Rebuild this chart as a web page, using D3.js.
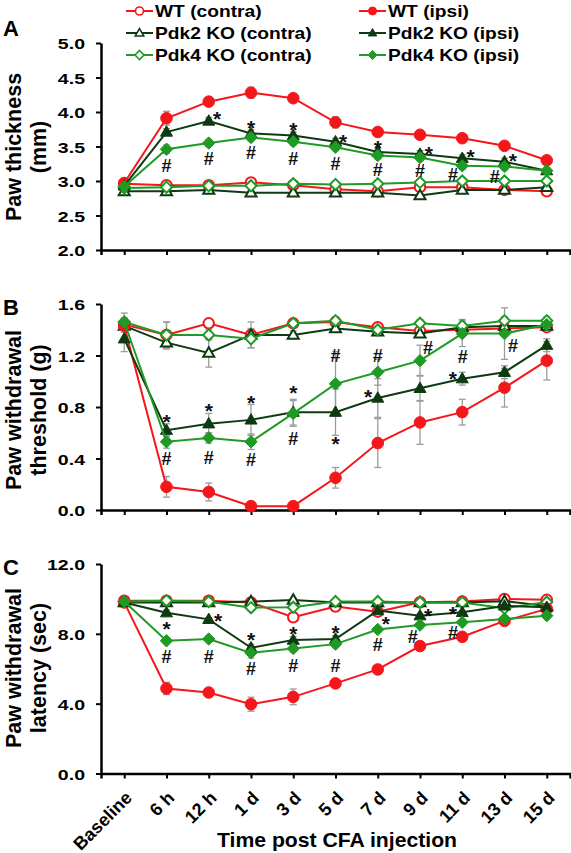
<!DOCTYPE html>
<html><head><meta charset="utf-8">
<script src="https://cdn.jsdelivr.net/npm/d3@7"></script>
<style>
body{margin:0;background:#fff;}
svg{display:block;font-family:"Liberation Sans",Arial,Helvetica,sans-serif;font-weight:bold;}
</style></head><body>
<svg id="chart" width="571" height="853"></svg>
<script>
// ---------- DATA ----------
const categories = ["Baseline","6 h","12 h","1 d","3 d","5 d","7 d","9 d","11 d","13 d","15 d"];
const seriesNames = ["WT (contra)","WT (ipsi)","Pdk2 KO (contra)","Pdk2 KO (ipsi)","Pdk4 KO (contra)","Pdk4 KO (ipsi)"];

// Panel A: Paw thickness (mm)
const thickWTc   = [2.96,2.94,2.94,2.98,2.94,2.88,2.85,2.91,2.91,2.87,2.85];
const thickWTi   = [2.97,3.91,4.15,4.28,4.20,3.85,3.71,3.67,3.62,3.51,3.30];
const thickPdk2c = [2.85,2.85,2.87,2.83,2.83,2.83,2.83,2.79,2.87,2.87,2.91];
const thickPdk2i = [2.93,3.71,3.87,3.69,3.66,3.57,3.42,3.39,3.33,3.28,3.15];
const thickPdk4c = [2.90,2.91,2.93,2.93,2.96,2.95,2.96,2.98,3.00,3.00,3.00];
const thickPdk4i = [2.92,3.46,3.55,3.63,3.57,3.49,3.37,3.34,3.22,3.21,3.15];
const thickErrWTc   = [0.03,0.03,0.03,0.03,0.03,0.03,0.03,0.03,0.03,0.03,0.03];
const thickErrWTi   = [0.03,0.10,0.05,0.08,0.04,0.08,0.05,0.05,0.06,0.04,0.04];
const thickErrPdk2c = [0.03,0.03,0.03,0.03,0.03,0.03,0.03,0.03,0.03,0.03,0.03];
const thickErrPdk2i = [0.03,0.05,0.05,0.05,0.05,0.05,0.05,0.05,0.05,0.05,0.04];
const thickErrPdk4c = [0.03,0.03,0.03,0.03,0.03,0.03,0.03,0.03,0.03,0.03,0.03];
const thickErrPdk4i = [0.03,0.06,0.05,0.05,0.05,0.05,0.05,0.05,0.05,0.05,0.04];
const thickTicks = [2.0,2.5,3.0,3.5,4.0,4.5,5.0];
// annotations: [symbol, category position (index units), value]
const thickNotes = [["*",2.2,3.97],["*",3,3.84],["*",4,3.81],["*",5.18,3.64],["*",6,3.55],["*",7.21,3.46],["*",8.2,3.42],["*",9.2,3.36],
  ["#",1,3.23],["#",2,3.33],["#",3,3.42],["#",4,3.33],["#",5,3.25],["#",6,3.17],["#",7,3.15],["#",7.78,3.09],["#",8.77,3.07]];

// Panel B: Paw withdrawal threshold (g)
const threshWTc   = [1.44,1.36,1.45,1.36,1.45,1.46,1.42,1.39,1.40,1.41,1.42];
const threshWTi   = [1.43,0.18,0.14,0.03,0.03,0.25,0.52,0.68,0.76,0.95,1.16];
const threshPdk2c = [1.43,1.30,1.22,1.36,1.36,1.41,1.385,1.37,1.42,1.43,1.43];
const threshPdk2i = [1.33,0.62,0.67,0.70,0.76,0.76,0.87,0.945,1.02,1.07,1.28];
const threshPdk4c = [1.46,1.36,1.36,1.33,1.45,1.47,1.40,1.45,1.43,1.47,1.47];
const threshPdk4i = [1.46,0.53,0.56,0.53,0.75,0.98,1.07,1.16,1.37,1.37,1.44];
const threshErrWTc   = [0.03,0.10,0.03,0.05,0.03,0.03,0.03,0.04,0.03,0.03,0.03];
const threshErrWTi   = [0.05,0.08,0.07,0.02,0.02,0.08,0.19,0.17,0.10,0.15,0.15];
const threshErrPdk2c = [0.10,0.05,0.11,0.10,0.03,0.03,0.03,0.03,0.04,0.03,0.03];
const threshErrPdk2i = [0.10,0.05,0.08,0.12,0.10,0.18,0.15,0.10,0.05,0.05,0.05];
const threshErrPdk4c = [0.03,0.10,0.04,0.07,0.03,0.03,0.03,0.03,0.05,0.03,0.03];
const threshErrPdk4i = [0.03,0.05,0.04,0.06,0.10,0.25,0.10,0.12,0.10,0.20,0.05];
const threshTicks = [0.0,0.4,0.8,1.2,1.6];
const threshNotes = [["*",1,0.725],["*",2,0.81],["*",3,0.875],["*",4,0.95],["*",5,0.55],["*",5.77,0.92],["*",7.78,1.06],
  ["#",1,0.40],["#",2,0.41],["#",3,0.39],["#",4,0.555],["#",5,1.20],["#",6,1.20],["#",7.19,1.26],["#",8.01,1.19],["#",9.2,1.28]];

// Panel C: Paw withdrawal latency (sec)
const latWTc   = [9.90,9.90,9.90,9.80,8.95,9.56,9.27,9.81,9.85,10.0,9.95];
const latWTi   = [9.80,4.87,4.64,3.97,4.39,5.16,5.96,7.30,7.83,8.74,9.43];
const latPdk2c = [9.80,9.80,9.80,9.85,9.94,9.80,9.80,9.80,9.80,9.87,9.60];
const latPdk2i = [9.80,9.21,8.83,7.20,7.64,7.70,9.33,9.04,9.23,9.60,9.52];
const latPdk4c = [9.85,9.90,9.85,9.50,9.52,9.85,9.85,9.80,9.80,9.46,9.82];
const latPdk4i = [9.85,7.60,7.70,6.91,7.16,7.41,8.25,8.50,8.66,8.85,9.04];
const latErrWTc   = [0.10,0.10,0.10,0.10,0.15,0.10,0.10,0.10,0.10,0.10,0.10];
const latErrWTi   = [0.10,0.35,0.20,0.40,0.45,0.15,0.15,0.15,0.15,0.10,0.10];
const latErrPdk2c = [0.10,0.10,0.10,0.10,0.10,0.10,0.10,0.10,0.10,0.10,0.10];
const latErrPdk2i = [0.10,0.15,0.10,0.20,0.20,0.20,0.10,0.10,0.10,0.10,0.10];
const latErrPdk4c = [0.10,0.10,0.10,0.10,0.10,0.10,0.10,0.10,0.10,0.10,0.10];
const latErrPdk4i = [0.10,0.15,0.15,0.30,0.20,0.20,0.10,0.10,0.10,0.10,0.10];
const latTicks = [0,4,8,12];
const latNotes = [["*",1,8.56],["*",2.22,9.02],["*",3,7.93],["*",4,8.26],["*",5,8.37],["*",6.19,8.85],["*",7.19,9.33],["*",7.78,9.46],
  ["#",1,6.69],["#",2,6.72],["#",3,6.01],["#",4,6.21],["#",5,6.21],["#",6,7.36],["#",6.83,7.87],["#",7.78,8.06]];

// ---------- STYLES ----------
const RED = "#f5161b", DARK = "#0e3a12", GREEN = "#1f9a25", ERR = "#9c9c9c";
const seriesStyle = [
  {color:RED,   shape:"circle",   filled:false},
  {color:RED,   shape:"circle",   filled:true},
  {color:DARK,  shape:"triangle", filled:false},
  {color:DARK,  shape:"triangle", filled:true},
  {color:GREEN, shape:"diamond",  filled:false},
  {color:GREEN, shape:"diamond",  filled:true}
];
const drawOrder = [0,2,4,1,3,5];

const panels = [
  {letter:"A", letterY:36, values:[thickWTc,thickWTi,thickPdk2c,thickPdk2i,thickPdk4c,thickPdk4i],
   errs:[thickErrWTc,thickErrWTi,thickErrPdk2c,thickErrPdk2i,thickErrPdk4c,thickErrPdk4i],
   domain:[2,5], range:[250,43], ticks:thickTicks, notes:thickNotes,
   title:["Paw thickness","(mm)"], titleY:147, showX:false},
  {letter:"B", letterY:315, values:[threshWTc,threshWTi,threshPdk2c,threshPdk2i,threshPdk4c,threshPdk4i],
   errs:[threshErrWTc,threshErrWTi,threshErrPdk2c,threshErrPdk2i,threshErrPdk4c,threshErrPdk4i],
   domain:[0,1.6], range:[510,304], ticks:threshTicks, notes:threshNotes,
   title:["Paw withdrawal","threshold (g)"], titleY:410, showX:false},
  {letter:"C", letterY:575, values:[latWTc,latWTi,latPdk2c,latPdk2i,latPdk4c,latPdk4i],
   errs:[latErrWTc,latErrWTi,latErrPdk2c,latErrPdk2i,latErrPdk4c,latErrPdk4i],
   domain:[0,12], range:[773.5,564], ticks:latTicks, notes:latNotes,
   title:["Paw withdrawal","latency (sec)"], titleY:668, showX:true}
];

// ---------- SYMBOLS ----------
const symbolTypes = {
  circle:{draw(ctx,r){ctx.moveTo(r,0);ctx.arc(0,0,r,0,2*Math.PI);ctx.closePath();}},
  triangle:{draw(ctx,s){const h=s*Math.sqrt(3)/2;ctx.moveTo(0,-h*0.6);ctx.lineTo(s/2,h*0.4);ctx.lineTo(-s/2,h*0.4);ctx.closePath();}},
  diamond:{draw(ctx,r){ctx.moveTo(0,-r);ctx.lineTo(r,0);ctx.lineTo(0,r);ctx.lineTo(-r,0);ctx.closePath();}}
};
const plotSize = {circle:5.8, triangle:12, diamond:6.2};
const legendSize = {circle:4, triangle:8.5, diamond:4.5};
function symPath(shape, sz){ return d3.symbol().type(symbolTypes[shape]).size(sz)(); }

// ---------- DRAW ----------
const svg = d3.select("#chart");
const x = d3.scalePoint().domain(categories).range([101,570]).padding(0.55);
const xPos = i => x(categories[0]) + i * x.step();

panels.forEach(p => {
  const y = d3.scaleLinear().domain(p.domain).range(p.range);
  const g = svg.append("g");

  // y axis
  const yAxis = d3.axisLeft(y).tickValues(p.ticks).tickFormat(d3.format(".1f")).tickSize(5).tickSizeOuter(0);
  const gy = g.append("g").attr("transform","translate(101,0)").call(yAxis)
    .attr("font-size",15.5).attr("font-family",null);
  gy.select(".domain").attr("stroke","#000").attr("stroke-width",2.5);
  gy.selectAll(".tick line").attr("stroke","#000").attr("stroke-width",2);
  gy.selectAll(".tick text").attr("fill","#000").attr("x",-16/1.26).attr("dy","0.36em")
    .attr("transform","scale(1.26,1)");

  // x axis
  const xAxis = d3.axisBottom(x).tickSize(5).tickSizeOuter(5);
  if (!p.showX) xAxis.tickFormat("");
  const gx = g.append("g").attr("transform",`translate(0,${p.range[0]})`).call(xAxis)
    .attr("font-size",18).attr("font-family",null);
  gx.select(".domain").attr("stroke","#000").attr("stroke-width",2.5);
  gx.selectAll(".tick line").attr("stroke","#000").attr("stroke-width",2);
  if (p.showX) {
    gx.selectAll(".tick text").attr("fill","#000").attr("text-anchor","end")
      .attr("x",0).attr("y",0).attr("dy","0.35em")
      .attr("transform","translate(4,21) rotate(-45)");
  }

  // panel letter
  svg.append("text").attr("x",3).attr("y",p.letterY).attr("font-size",22).text(p.letter);

  // y title
  const gt = svg.append("g").attr("transform",`translate(0,${p.titleY}) rotate(-90)`);
  gt.selectAll("text").data(p.title).join("text")
    .attr("x",0).attr("y",(d,i)=> i===0 ? 21 : 46)
    .attr("text-anchor","middle").attr("font-size",21.5).text(d=>d);

  // error bars
  const gErr = g.append("g").attr("stroke",ERR).attr("stroke-width",1.3).attr("fill","none");
  drawOrder.forEach(s => {
    p.values[s].forEach((v,i) => {
      const e = p.errs[s][i], cx = x(categories[i]);
      gErr.append("line").attr("x1",cx).attr("x2",cx).attr("y1",y(v-e)).attr("y2",y(v+e));
      gErr.append("line").attr("x1",cx-3.5).attr("x2",cx+3.5).attr("y1",y(v+e)).attr("y2",y(v+e));
      gErr.append("line").attr("x1",cx-3.5).attr("x2",cx+3.5).attr("y1",y(v-e)).attr("y2",y(v-e));
    });
  });

  // lines + markers
  const line = d3.line().x((d,i)=>x(categories[i])).y(d=>y(d));
  drawOrder.forEach(s => {
    const st = seriesStyle[s];
    g.append("path").datum(p.values[s]).attr("d",line)
      .attr("fill","none").attr("stroke",st.color).attr("stroke-width",2);
    g.append("g").selectAll("path").data(p.values[s]).join("path")
      .attr("transform",(d,i)=>`translate(${x(categories[i])},${y(d)})`)
      .attr("d", symPath(st.shape, st.filled ? plotSize[st.shape] : plotSize[st.shape]*(st.shape==="triangle"?0.92:0.9)))
      .attr("fill", st.filled ? st.color : "#fff")
      .attr("stroke", st.color).attr("stroke-width", st.filled ? 1 : 2);
  });

  // significance annotations
  g.append("g").selectAll("text").data(p.notes).join("text")
    .attr("x",d=>xPos(d[1])).attr("y",d=>y(d[2]))
    .attr("dy",d=> d[0]==="*" ? "0.58em" : "0.36em")
    .attr("text-anchor","middle")
    .attr("font-size",d=> d[0]==="*" ? 21 : 18)
    .attr("fill","#111").text(d=>d[0]);
});

// legend
const legendCols = [126, 359];
const legendRows = [11, 33, 55];
seriesNames.forEach((name, s) => {
  const st = seriesStyle[s];
  const lx = legendCols[s % 2], ly = legendRows[Math.floor(s / 2)];
  const lg = svg.append("g").attr("transform",`translate(${lx},${ly})`);
  lg.append("line").attr("x1",0).attr("x2",27).attr("y1",0).attr("y2",0)
    .attr("stroke",st.color).attr("stroke-width",2);
  lg.append("path").attr("transform","translate(13.5,0)").attr("d",symPath(st.shape, legendSize[st.shape]))
    .attr("fill", st.filled ? st.color : "#fff").attr("stroke",st.color).attr("stroke-width",st.filled?1:1.6);
  lg.append("text").attr("transform","translate(29,0) scale(1.2,1)").attr("dy","0.36em")
    .attr("font-size",16).attr("fill","#000").text(name);
});

// x axis title
svg.append("text").attr("transform","translate(337,847) scale(1.06,1)")
  .attr("text-anchor","middle").attr("font-size",20).text("Time post CFA injection");
</script>
</body></html>
